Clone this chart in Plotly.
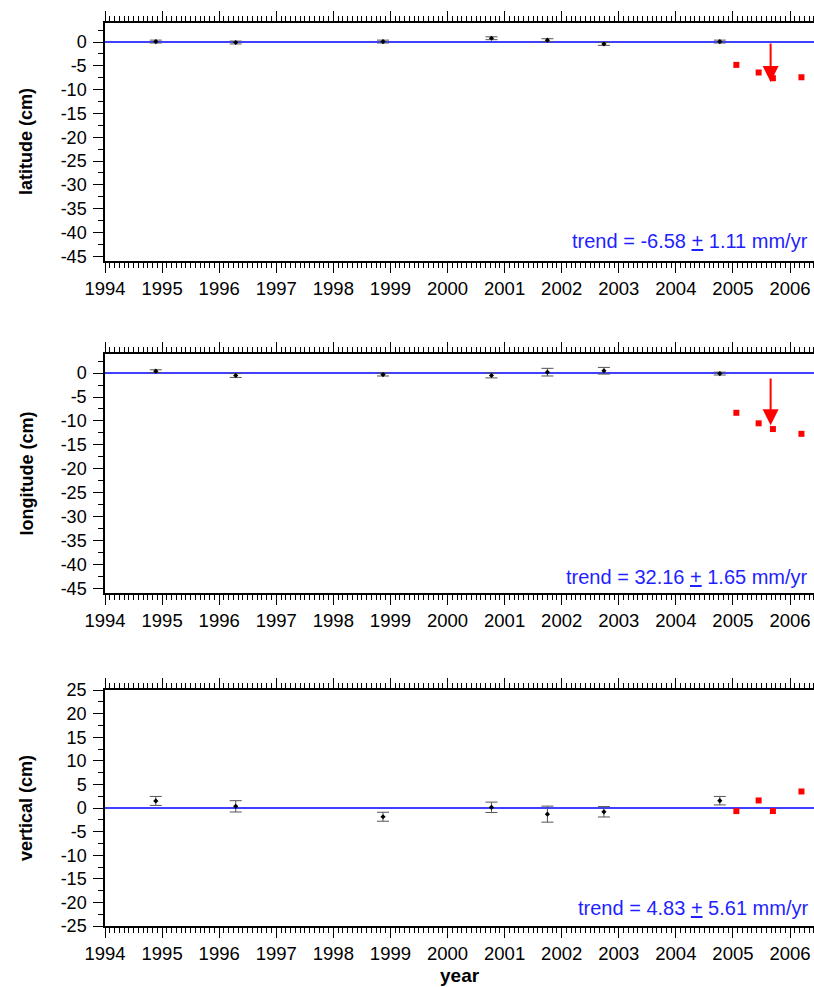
import plotly.graph_objects as go

# ---------------- data ----------------
years_gps = [1994.89, 1996.29, 1998.87, 2000.77, 2001.75, 2002.74, 2004.77]
lat = [0.1, -0.1, 0.1, 0.8, 0.4, -0.4, 0.1]
lat_err = [0.3, 0.3, 0.3, 0.3, 0.3, 0.3, 0.3]
lon = [0.4, -0.5, -0.3, -0.5, 0.2, 0.5, -0.1]
lon_err = [0.3, 0.4, 0.3, 0.5, 0.8, 0.7, 0.3]
vert = [1.5, 0.35, -1.85, 0.15, -1.3, -0.8, 1.55]
vert_err = [0.95, 1.2, 0.95, 1.1, 1.7, 1.1, 0.9]

years_new = [2005.06, 2005.45, 2005.70, 2006.20]
lat_new = [-4.8, -6.4, -7.6, -7.4]
lon_new = [-8.3, -10.5, -11.7, -12.7]
vert_new = [-0.65, 1.6, -0.65, 3.5]

arrow_year = 2005.66
lat_arrow = [0.0, -8.4]
lon_arrow = [-0.8, -10.9]

year_ticks = list(range(1994, 2007))
horiz_ticks = [0, -5, -10, -15, -20, -25, -30, -35, -40, -45]
vert_ticks = [25, 20, 15, 10, 5, 0, -5, -10, -15, -20, -25]
titles = ["latitude (cm)", "longitude (cm)", "vertical (cm)"]
trends = ["trend = -6.58 <u>+</u> 1.11 mm/yr",
          "trend = 32.16 <u>+</u> 1.65 mm/yr",
          "trend = 4.83 <u>+</u> 5.61 mm/yr"]
y_ranges = [[-46, 4], [-46, 4], [-25, 25]]
y_tickvals = [horiz_ticks, horiz_ticks, vert_ticks]

# ---------------- figure ----------------
W, H = 814, 987
L = 105
panels_px = [(23, 261), (354, 593), (690, 926)]  # top, bottom pixel rows
domains = [[1 - b / H, 1 - t / H] for t, b in panels_px]

font_family = "Liberation Sans, Arial, sans-serif"
fig = go.Figure()

series = [(lat, lat_err, lat_new), (lon, lon_err, lon_new), (vert, vert_err, vert_new)]
for i, (vals, errs, new) in enumerate(series):
    sfx = "" if i == 0 else str(i + 1)
    fig.add_trace(go.Scatter(
        x=years_gps, y=vals, mode="markers",
        marker=dict(color="black", size=4, symbol="diamond"),
        error_y=dict(type="data", array=errs, visible=True, color="#555555",
                     thickness=1, width=6),
        xaxis="x" + sfx, yaxis="y" + sfx, showlegend=False))
    fig.add_trace(go.Scatter(
        x=years_new, y=new, mode="markers",
        marker=dict(color="red", size=6, symbol="square"),
        xaxis="x" + sfx, yaxis="y" + sfx, showlegend=False))

layout = dict(width=W, height=H, margin=dict(l=L, r=0, t=0, b=0),
              paper_bgcolor="white", plot_bgcolor="white",
              font=dict(family=font_family, color="black"),
              showlegend=False)

shapes = []
annotations = []
for i in range(3):
    sfx = "" if i == 0 else str(i + 1)
    layout["xaxis" + sfx] = dict(
        domain=[0, 1], anchor="y" + sfx, range=[1994, 2006.42],
        tickmode="array", tickvals=year_ticks, ticktext=[str(y) for y in year_ticks],
        ticks="outside", ticklen=10, tickwidth=1, tickcolor="black",
        showline=True, linecolor="black", linewidth=1.5, mirror="ticks",
        showgrid=False, zeroline=False, tickfont=dict(size=18.5),
        minor=dict(tickmode="linear", tick0=1994, dtick=1 / 12, ticks="outside",
                   ticklen=5, tickwidth=1, tickcolor="black", showgrid=False),
        automargin=False)
    layout["yaxis" + sfx] = dict(
        domain=domains[i], anchor="x" + sfx, range=y_ranges[i],
        tickmode="array", tickvals=y_tickvals[i],
        ticktext=[str(v) for v in y_tickvals[i]],
        ticks="outside", ticklen=10, tickwidth=1, tickcolor="black",
        showline=True, linecolor="black", linewidth=1.5,
        showgrid=False, zeroline=False, tickfont=dict(size=18),
        ticklabelstandoff=3,
        minor=dict(tickmode="linear", tick0=0, dtick=2.5, ticks="outside",
                   ticklen=5, tickwidth=1, tickcolor="black", showgrid=False),
        automargin=False)
    # zero line
    shapes.append(dict(type="line", xref="x" + sfx + " domain", yref="y" + sfx,
                       x0=0, x1=1, y0=0, y1=0, line=dict(color="blue", width=1.5),
                       layer="below"))
    t, b = panels_px[i]
    # y title
    annotations.append(dict(text="<b>" + titles[i] + "</b>", xref="paper", yref="paper",
                            x=(26 - L) / (W - L), y=1 - ((t + b) / 2) / H,
                            xanchor="center", yanchor="middle", textangle=-90,
                            showarrow=False, font=dict(size=18)))
    # trend
    annotations.append(dict(text=trends[i], xref="x" + sfx + " domain",
                            yref="y" + sfx + " domain", x=0.994,
                            y=[0.084, 0.067, 0.076][i], xanchor="right",
                            yanchor="middle", showarrow=False,
                            font=dict(size=20, color="#1f1fff")))

# arrows
for sfx, (y0, y1) in [("", lat_arrow), ("2", lon_arrow)]:
    annotations.append(dict(x=arrow_year, y=y1, ax=arrow_year, ay=y0,
                            xref="x" + sfx, yref="y" + sfx,
                            axref="x" + sfx, ayref="y" + sfx,
                            text="", showarrow=True, arrowhead=2, arrowsize=1.6,
                            arrowwidth=2, arrowcolor="red"))

annotations.append(dict(text="<b>year</b>", xref="paper", yref="paper",
                        x=(460 - L) / (W - L), y=(987 - 975) / H,
                        xanchor="center", yanchor="middle", showarrow=False,
                        font=dict(size=19)))

layout["shapes"] = shapes
layout["annotations"] = annotations
fig.update_layout(**layout)
fig.write_html("out.html")
